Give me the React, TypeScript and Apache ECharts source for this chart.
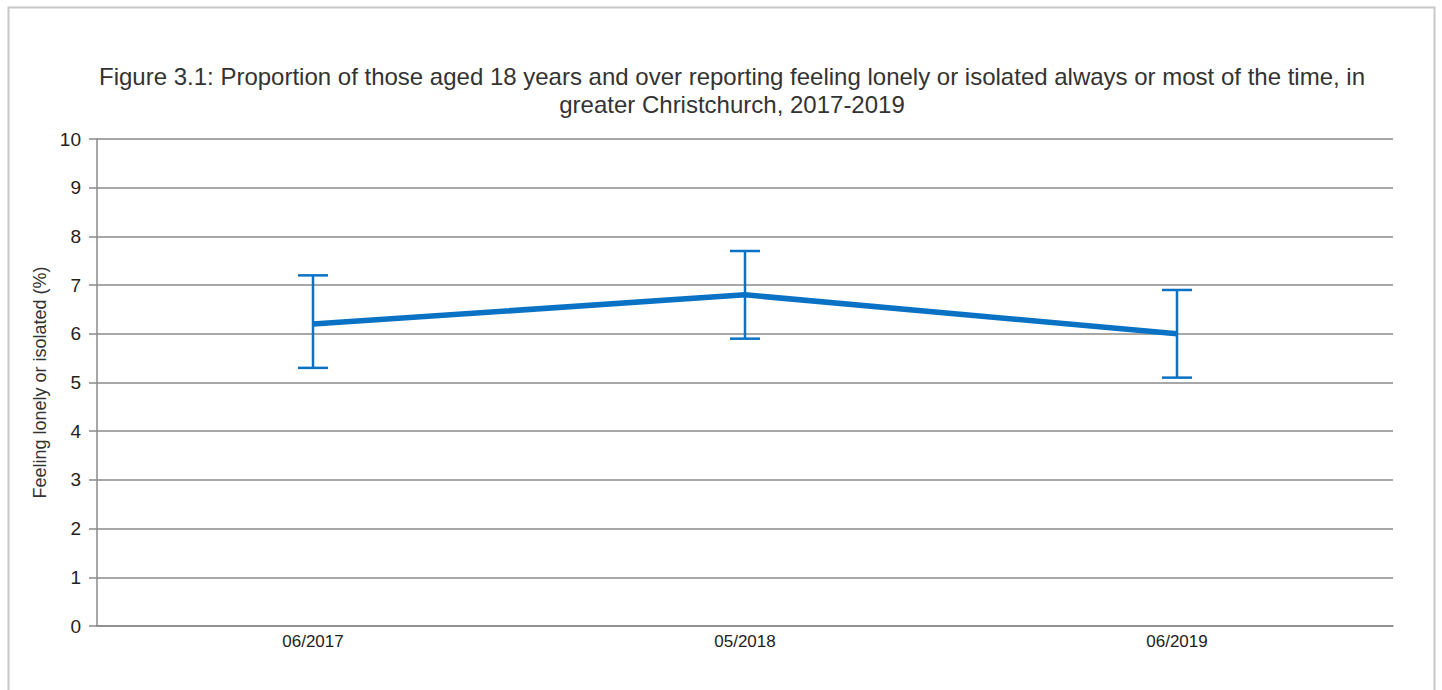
import React, { useEffect, useRef } from "react";
import * as echarts from "echarts";

const categories = ["06/2017", "05/2018", "06/2019"];
const values = [6.2, 6.8, 6.0];
const lowerBounds = [5.3, 5.9, 5.1];
const upperBounds = [7.2, 7.7, 6.9];
const yTicks = [0, 1, 2, 3, 4, 5, 6, 7, 8, 9, 10];

const titleText =
  "Figure 3.1: Proportion of those aged 18 years and over reporting feeling lonely or isolated always or most of the time, in\ngreater Christchurch, 2017-2019";
const yName = "Feeling lonely or isolated (%)";

const BLUE = "#0a72c4";
const AXIS = "#8a8a8a";
const FONT = "'Liberation Sans', Arial, sans-serif";

export default function App() {
  const ref = useRef<HTMLDivElement>(null);
  useEffect(() => {
    if (!ref.current) return;
    const chart = echarts.init(ref.current, null, { renderer: "svg" });
    const errData = categories.map((c, i) => [i, lowerBounds[i], upperBounds[i]]);
    chart.setOption({
      animation: false,
      backgroundColor: "#ffffff",
      graphic: [
        {
          type: "rect",
          shape: { x: 8.5, y: 7.5, width: 1426, height: 700 },
          style: { fill: "none", stroke: "#c8c8c8", lineWidth: 2 },
          silent: true,
        },
      ],
      title: {
        text: titleText,
        left: 727,
        textAlign: "center",
        top: 57,
        textStyle: {
          fontFamily: FONT,
          fontSize: 24,
          fontWeight: "normal",
          color: "#333333",
          lineHeight: 28,
        },
      },
      grid: { left: 97, right: 49, top: 139, bottom: 64 },
      xAxis: {
        type: "category",
        data: categories,
        boundaryGap: true,
        axisLine: { lineStyle: { color: AXIS, width: 1.5 } },
        axisTick: { alignWithLabel: true, length: 5, lineStyle: { color: AXIS, width: 1.5 } },
        axisLabel: { fontFamily: FONT, fontSize: 17, color: "#222", margin: 7 },
        splitLine: { show: false },
      },
      yAxis: {
        type: "value",
        min: yTicks[0],
        max: yTicks[yTicks.length - 1],
        interval: 1,
        name: yName,
        nameLocation: "middle",
        nameGap: 46,
        nameRotate: 90,
        nameTextStyle: { fontFamily: FONT, fontSize: 18, color: "#333" },
        axisLine: { show: true, lineStyle: { color: AXIS, width: 1.5 } },
        axisTick: { show: true, length: 8, lineStyle: { color: AXIS, width: 1.5 } },
        axisLabel: { fontFamily: FONT, fontSize: 19, color: "#222", margin: 16 },
        splitLine: { show: true, lineStyle: { color: AXIS, width: 1.5 } },
      },
      series: [
        {
          type: "line",
          data: values,
          symbol: "none",
          lineStyle: { color: BLUE, width: 5.5 },
          z: 3,
        },
        {
          type: "custom",
          data: errData,
          z: 4,
          renderItem: (params: any, api: any) => {
            const x = api.value(0);
            const lo = api.coord([x, api.value(1)]);
            const hi = api.coord([x, api.value(2)]);
            const half = 15;
            const style = { stroke: BLUE, lineWidth: 2.5, fill: "none" };
            return {
              type: "group",
              children: [
                { type: "line", shape: { x1: lo[0], y1: lo[1], x2: hi[0], y2: hi[1] }, style },
                { type: "line", shape: { x1: hi[0] - half, y1: hi[1], x2: hi[0] + half, y2: hi[1] }, style },
                { type: "line", shape: { x1: lo[0] - half, y1: lo[1], x2: lo[0] + half, y2: lo[1] }, style },
              ],
            };
          },
        },
      ],
    });
    return () => chart.dispose();
  }, []);
  return (
    <div
      ref={ref}
      style={{ position: "fixed", left: 0, top: 0, width: 1442, height: 690 }}
    />
  );
}
